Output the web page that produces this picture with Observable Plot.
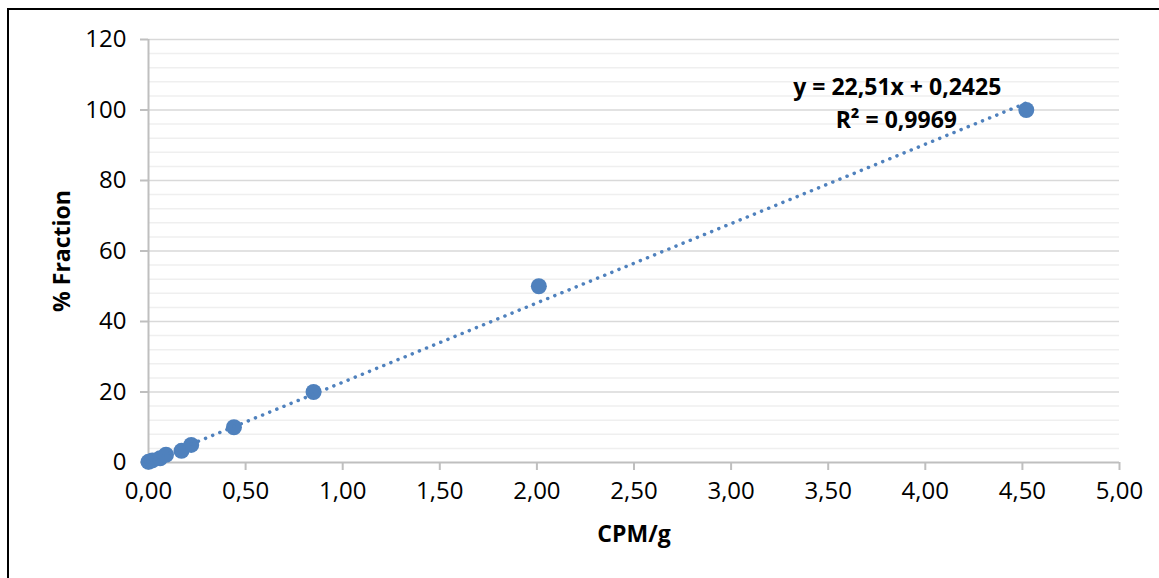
<!DOCTYPE html>
<html>
<head>
<meta charset="utf-8">
<script src="https://cdn.jsdelivr.net/npm/d3@7"></script>
<script src="https://cdn.jsdelivr.net/npm/@observablehq/plot@0.6"></script>
<style>
  html, body { margin: 0; padding: 0; background: #fff; }
  #wrap { position: relative; width: 1159px; height: 578px; overflow: hidden; }
  #frame { position: absolute; left: 7px; top: 8px; width: 1200px; height: 600px;
           border-top: 2px solid #000; border-left: 2px solid #000; pointer-events: none; }
  svg { display: block; }
</style>
</head>
<body>
<div id="wrap"><div id="frame"></div></div>
<script>
// ---- data ----
const cpm      = [0.00, 0.02, 0.06, 0.09, 0.17, 0.22, 0.44, 0.85, 2.01, 4.52];
const fraction = [0.2, 0.6, 1.2, 2.2, 3.3, 5.0, 10, 20, 50, 100];
const slope = 22.51;
const intercept = 0.2425;
const equationText = "y = 22,51x + 0,2425";
const r2Text = "R² = 0,9969";
const xTicks = [0, 0.5, 1, 1.5, 2, 2.5, 3, 3.5, 4, 4.5, 5];
const yTicks = [0, 20, 40, 60, 80, 100, 120];
const yMinor = [4, 8, 12, 16, 24, 28, 32, 36, 44, 48, 52, 56, 64, 68, 72, 76, 84, 88, 92, 96, 104, 108, 112, 116];
const xTitle = "CPM/g";
const yTitle = "% Fraction";

const points = cpm.map((x, i) => ({x, y: fraction[i]}));
const xMin = d3.min(cpm), xMax = d3.max(cpm);
const trend = [xMin, xMax].map(x => ({x, y: slope * x + intercept}));
const last = points[d3.maxIndex(cpm)];

const fmt = d => d.toFixed(2).replace(".", ",");
const font = "'Open Sans', 'Noto Sans', sans-serif";
const blue = "#4F81BD";
const ink = "#000";

const chart = Plot.plot({
  width: 1159,
  height: 578,
  marginLeft: 148,
  marginRight: 40,
  marginTop: 39,
  marginBottom: 116,
  style: {fontFamily: font, fontSize: "24px", background: "transparent", color: ink},
  x: {domain: [0, 5]},
  y: {domain: [0, 120]},
  marks: [
    Plot.ruleY(yMinor, {stroke: "#EFEFEF", strokeWidth: 1.5}),
    Plot.ruleY(yTicks.filter(d => d > 0), {stroke: "#D9D9D9", strokeWidth: 1.5}),
    Plot.ruleX([0], {stroke: "#BFBFBF", strokeWidth: 2}),
    Plot.ruleY([0], {stroke: "#BFBFBF", strokeWidth: 2}),
    Plot.axisY({ticks: yTicks, tickSize: 8, tickPadding: 14, stroke: "#BFBFBF", strokeWidth: 2,
                fill: ink, label: null, fontSize: 24}),
    Plot.axisX({ticks: xTicks, tickSize: 8, tickPadding: 11, stroke: "#BFBFBF", strokeWidth: 2,
                fill: ink, label: null, tickFormat: fmt, fontSize: 24}),
    Plot.dot(points, {x: "x", y: "y", r: 8, fill: blue, stroke: null}),
    Plot.line(trend, {x: "x", y: "y", stroke: blue, strokeWidth: 3.5,
                      strokeDasharray: "0.1 7.6", strokeLinecap: "round"}),
    Plot.text([last], {x: "x", y: "y", text: () => equationText, dx: -129, dy: -22,
                       fontWeight: "bold", fontSize: 23, fill: ink}),
    Plot.text([last], {x: "x", y: "y", text: () => r2Text, dx: -130, dy: 11,
                       fontWeight: "bold", fontSize: 23, fill: ink}),
    Plot.text([xTitle], {frameAnchor: "bottom", dy: 79, text: d => d,
                         fontWeight: "bold", fontSize: 23, fill: ink}),
    Plot.text([yTitle], {frameAnchor: "left", textAnchor: "middle", lineAnchor: "middle",
                         dx: -86, rotate: -90, text: d => d,
                         fontWeight: "bold", fontSize: 23, fill: ink})
  ]
});
document.getElementById("wrap").prepend(chart);
</script>
</body>
</html>
